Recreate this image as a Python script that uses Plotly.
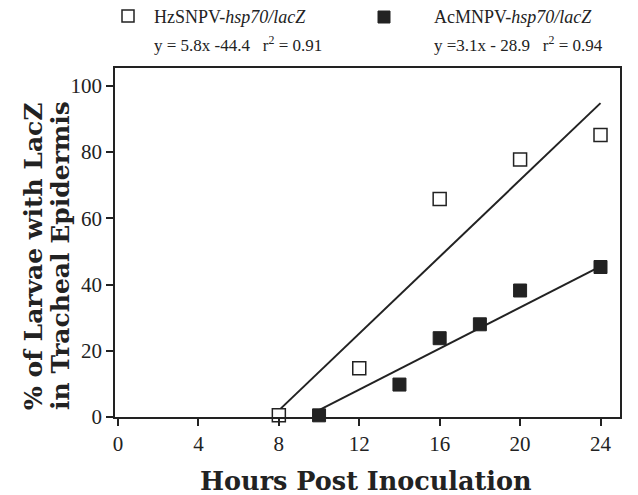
import plotly.graph_objects as go

# Data
hz_x = [8, 12, 16, 20, 24]
hz_y = [0.5, 14.7, 65.8, 77.8, 85.2]
ac_x = [10, 14, 16, 18, 20, 24]
ac_y = [0.5, 9.8, 23.8, 28.0, 38.2, 45.3]
# Regression line endpoints (from the printed fits)
hz_fit_x = [8, 24]
hz_fit_y = [2.0, 94.8]
ac_fit_x = [10, 24]
ac_fit_y = [2.1, 45.5]

x_ticks = [0, 4, 8, 12, 16, 20, 24]
y_ticks = [0, 20, 40, 60, 80, 100]

SERIF = "Liberation Serif"
TITLE_SERIF = "DejaVu Serif"
INK = "#222222"

fig = go.Figure()
fig.add_trace(go.Scatter(x=hz_fit_x, y=hz_fit_y, mode="lines",
                         line=dict(color=INK, width=2), showlegend=False))
fig.add_trace(go.Scatter(x=ac_fit_x, y=ac_fit_y, mode="lines",
                         line=dict(color=INK, width=2), showlegend=False))
fig.add_trace(go.Scatter(x=hz_x, y=hz_y, mode="markers", cliponaxis=False,
                         marker=dict(symbol="square", size=13, color="white",
                                     line=dict(color=INK, width=1.5)),
                         showlegend=False))
fig.add_trace(go.Scatter(x=ac_x, y=ac_y, mode="markers", cliponaxis=False,
                         marker=dict(symbol="square", size=13, color=INK,
                                     line=dict(color=INK, width=1)),
                         showlegend=False))

OFF = 8  # page body margin
W, H = 638 - OFF, 495 - OFF
# plot area in page pixels: left 115, right 620, top 68, bottom (y=0) 417
L, R, T, B = 115 - OFF, W - (620 - OFF), 68 - OFF, H - (417 - OFF)
pw, ph = W - L - R, H - T - B

def px(xp):
    return (xp - OFF - L) / pw

def py(yp):
    return (H - B - (yp - OFF)) / ph

annotations = [
    dict(text="HzSNPV-<i>hsp70/lacZ</i>", x=px(152), y=py(17), xanchor="left", yanchor="middle",
         font=dict(family=SERIF, size=18, color=INK)),
    dict(text="y = 5.8x -44.4   r<sup>2</sup> = 0.91", x=px(152), y=py(44), xanchor="left", yanchor="middle",
         font=dict(family=SERIF, size=17, color=INK)),
    dict(text="AcMNPV-<i>hsp70/lacZ</i>", x=px(432), y=py(17), xanchor="left", yanchor="middle",
         font=dict(family=SERIF, size=18, color=INK)),
    dict(text="y =3.1x - 28.9   r<sup>2</sup> = 0.94", x=px(432), y=py(44), xanchor="left", yanchor="middle",
         font=dict(family=SERIF, size=17, color=INK)),
    dict(text="<b>% of Larvae with LacZ</b>", x=px(33), y=py(256),
         xanchor="center", yanchor="middle", textangle=-90,
         font=dict(family=TITLE_SERIF, size=25, color=INK)),
    dict(text="<b>in Tracheal Epidermis</b>", x=px(60), y=py(256),
         xanchor="center", yanchor="middle", textangle=-90,
         font=dict(family=TITLE_SERIF, size=25, color=INK)),
    dict(text="<b>Hours Post Inoculation</b>", x=px(366), y=py(481), xanchor="center", yanchor="middle",
         font=dict(family=TITLE_SERIF, size=25.5, color=INK)),
]
for a in annotations:
    a.update(xref="paper", yref="paper", showarrow=False)

shapes = [
    dict(type="rect", xref="paper", yref="paper", x0=px(122), x1=px(134), y0=py(22), y1=py(10),
         line=dict(color=INK, width=1.5), fillcolor="white"),
    dict(type="rect", xref="paper", yref="paper", x0=px(378), x1=px(390), y0=py(23), y1=py(11),
         line=dict(color=INK, width=1), fillcolor=INK),
]

fig.update_layout(
    width=W, height=H,
    margin=dict(l=L, r=R, t=T, b=B),
    paper_bgcolor="white", plot_bgcolor="white",
    annotations=annotations, shapes=shapes,
    xaxis=dict(range=[-0.15, 24.97], tickvals=x_ticks, ticks="outside", ticklen=7,
               tickwidth=1.5, tickcolor=INK, showline=True, linewidth=1.5, linecolor=INK,
               mirror=True, showgrid=False, zeroline=False,
               tickfont=dict(family=SERIF, size=21, color=INK)),
    yaxis=dict(range=[0, 105.4], tickvals=y_ticks, ticks="outside", ticklen=7,
               tickwidth=1.5, tickcolor=INK, showline=True, linewidth=1.5, linecolor=INK,
               mirror=True, showgrid=False, zeroline=False,
               tickfont=dict(family=SERIF, size=21, color=INK)),
)

fig.write_html("out.html")
